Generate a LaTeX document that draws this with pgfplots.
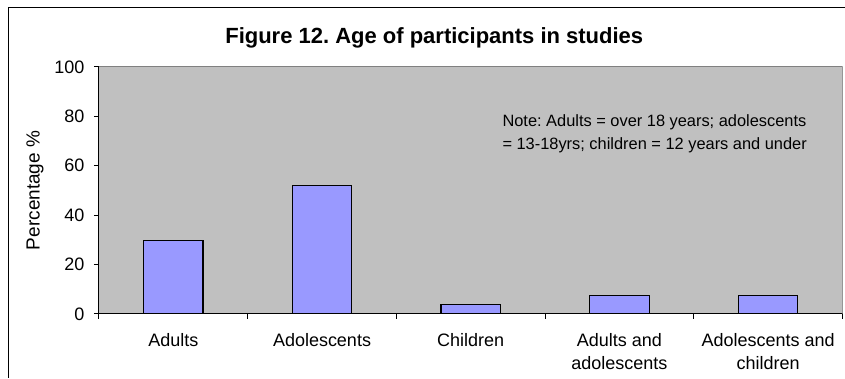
\documentclass[border=0pt]{standalone}
\usepackage{pgfplots}
\pgfplotsset{compat=1.18}
\usepackage{fontspec}
\setmainfont{Liberation Sans}
\frenchspacing
\definecolor{plotgray}{HTML}{C0C0C0}
\definecolor{framegray}{HTML}{808080}
\definecolor{barblue}{HTML}{9999FF}
\begin{document}
\begin{tikzpicture}
% page area
\path[fill=white] (0pt,0pt) rectangle (845pt,378pt);
% chart frame (left and top edges)
\draw[line width=1pt] (9pt,0pt) -- (9pt,370pt) -- (845pt,370pt);
% title
\node[font=\fontsize{22}{26}\selectfont\bfseries, anchor=base] at (434.5pt,334pt)
  {Figure 12. Age of participants in studies};
\begin{axis}[
  at={(99pt,64pt)}, anchor=south west,
  scale only axis, width=744pt, height=247pt,
  xmin=-0.5, xmax=4.5, ymin=0, ymax=100,
  axis background/.style={fill=plotgray},
  axis x line*=bottom, axis y line*=left,
  axis line style={black, line width=1pt},
  ytick={0,20,...,100},
  xtick={-0.5,0.5,...,4.5},
  x tick label as interval,
  xticklabels={Adults,Adolescents,Children,{Adults and\\adolescents},{Adolescents and\\children}},
  tick align=outside, major tick length=5pt,
  tick style={black, line width=1pt},
  /pgf/number format/assume math mode=true,
  ticklabel style={font=\fontsize{18}{23}\selectfont},
  xticklabel style={align=center, yshift=-11pt},
  yticklabel style={xshift=-6pt},
  ylabel={Percentage \%},
  ylabel style={font=\fontsize{19}{22}\selectfont, at={(axis description cs:-0.086,0.5)}, anchor=center},
]
\addplot[ybar, bar width=0.4, fill=barblue, draw=black, line width=1.2pt]
  coordinates {(0,29.6) (1,51.9) (2,3.7) (3,7.4) (4,7.4)};
\draw[framegray, line width=1pt] (rel axis cs:0,1) -- (rel axis cs:1,1) -- (rel axis cs:1,0);
\node[anchor=west, font=\fontsize{16.4}{20}\selectfont] at (axis cs:2.19,77.7)
  {Note: Adults = over 18 years; adolescents};
\node[anchor=west, font=\fontsize{16.4}{20}\selectfont] at (axis cs:2.19,68.4)
  {= 13-18yrs; children = 12 years and under};
\end{axis}
\end{tikzpicture}
\end{document}
